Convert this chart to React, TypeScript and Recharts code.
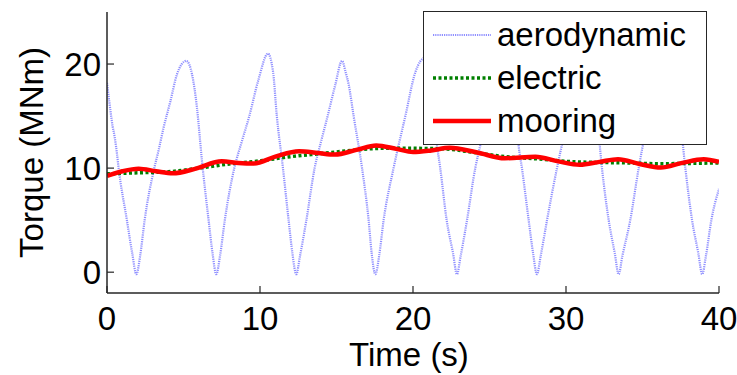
import React from 'react';
import { LineChart, Line, XAxis, YAxis, Legend, Label } from 'recharts';

// aerodynamic torque (MNm) vs time (s)
const aeroTime = [
  0, 0.15, 0.37, 0.5, 0.65, 0.76, 1.3, 1.65, 1.92, 2.17, 2.46, 3.09, 3.37, 3.7, 4.14, 4.57, 5.18, 5.56, 5.88, 6.2, 6.64, 6.9, 7.14,
  7.39, 7.7, 8.32, 8.8, 9.3, 9.9, 10.52, 10.85, 11.1, 11.5, 11.87, 12.12, 12.37,
  12.62, 13.03, 13.57, 14.0, 14.42, 14.92, 15.36, 15.6, 15.8, 16.12, 16.67, 17.1, 17.3, 17.54,
  17.79, 18.08, 18.73, 19.5, 20.15, 20.8, 21.2, 21.57, 21.78, 22.2, 22.62, 22.87,
  23.12, 23.53, 24.07, 24.4, 25.2, 26.13, 26.6, 26.9, 27.12, 27.56, 27.85, 28.1,
  28.35, 28.76, 29.41, 29.7, 30.5, 31.36, 31.9, 32.35, 32.79, 33.19, 33.44,
  33.69, 34.2, 34.75, 35.0, 35.8, 36.7, 37.3, 37.8, 38.24, 38.65, 38.9,
  39.15, 39.5, 40,
];
const aeroTorque = [
  18.2, 16.4, 14.0, 13.0, 11.4, 10, 5, 1.8, -0.2, 1.6, 5, 10, 11.7, 13.9, 16.4, 19.0, 20.3, 19.0, 15.8, 10.8, 5, 1.8, -0.2,
  1.6, 5, 10, 12.5, 15, 18.5, 21.0, 19.3, 15, 10, 5, 1.8, -0.2,
  1.6, 5, 10, 12.6, 15, 18, 20.3, 19.2, 18, 15, 10, 5, 1.8, -0.2,
  1.6, 5, 10, 15, 19.2, 20.6, 17.5, 12.2, 10, 5, 1.8, -0.2,
  1.6, 5, 10, 12.2, 16.5, 20.3, 18, 12.2, 10, 5, 1.8, -0.2,
  1.6, 5, 10, 12, 16.5, 20.3, 17, 10, 5, 1.8, -0.2,
  1.6, 5, 10, 12, 16.5, 20.3, 17, 10, 5, 1.8, -0.2,
  1.6, 5, 8,
];

const electricTime = [0, 2, 4, 6, 8, 10, 12, 14, 16, 18, 20, 22, 24, 26, 28, 30, 32, 34, 36, 38, 40];
const electricTorque = [9.45, 9.55, 9.65, 10.0, 10.4, 10.7, 11.1, 11.4, 11.7, 11.9, 11.9, 11.85, 11.5, 11.1, 10.9, 10.65, 10.55, 10.5, 10.42, 10.45, 10.5];

const mooringTime = [
  0, 1.0, 2.07, 3.2, 4.3, 5.8, 7.5, 8.6, 9.6, 11.0, 12.55, 13.8, 14.9, 16.3, 17.6, 18.9, 20.0, 21.2, 22.4,
  24.2, 26.0, 28.0, 29.5, 30.9, 32.2, 33.4, 34.8, 36.2, 37.6, 39.0, 40,
];
const mooringTorque = [
  9.25, 9.7, 9.95, 9.7, 9.5, 9.95, 10.65, 10.5, 10.45, 11.1, 11.62, 11.45, 11.3, 11.75, 12.18, 11.85, 11.55, 11.7, 11.95,
  11.5, 10.95, 11.1, 10.65, 10.32, 10.6, 10.85, 10.4, 10.05, 10.5, 10.85, 10.6,
];

const xTicks = [0, 10, 20, 30, 40];
const yTicks = [0, 10, 20];
const seriesNames = ['aerodynamic', 'electric', 'mooring'];

const zip = (ts: number[], vs: number[]) => ts.map((t, i) => ({ t, v: vs[i] }));
const aeroData = zip(aeroTime, aeroTorque);
const electricData = zip(electricTime, electricTorque);
const mooringData = zip(mooringTime, mooringTorque);

const FONT = '"Liberation Sans", Arial, Helvetica, sans-serif';
const AXIS = '#262626';

const styles = [
  { stroke: '#6a6aff', width: 2.2, dash: '1.2 1', opacity: 0.75 },
  { stroke: '#008000', width: 3.5, dash: '3 2.5', opacity: 1 },
  { stroke: '#ff0000', width: 4.5, dash: undefined, opacity: 1 },
];

const renderLegend = () => (
  <div
    style={{
      boxSizing: 'border-box',
      width: 284,
      height: 134,
      border: `1.5px solid ${AXIS}`,
      background: '#fff',
      paddingTop: 1,
      fontFamily: FONT,
      fontSize: 33,
      color: '#000',
    }}
  >
    {seriesNames.map((name, i) => (
      <div key={name} style={{ display: 'flex', alignItems: 'center', height: 43 }}>
        <svg width={58} height={10} style={{ marginLeft: 9, marginRight: 6 }}>
          <line
            x1={0}
            y1={5}
            x2={58}
            y2={5}
            stroke={styles[i].stroke}
            strokeWidth={styles[i].width}
            strokeDasharray={styles[i].dash}
            strokeOpacity={styles[i].opacity}
          />
        </svg>
        <span style={{ lineHeight: 'normal' }}>{name}</span>
      </div>
    ))}
  </div>
);

const renderXLabel = (props: any) => {
  const vb = props.viewBox;
  return (
    <text x={vb.x + vb.width / 2 - 4} y={vb.y + 73} textAnchor="middle" fontFamily={FONT} fontSize={33} fill="#000">
      Time (s)
    </text>
  );
};

const renderYLabel = (props: any) => {
  const vb = props.viewBox;
  const cx = vb.x - 4;
  const cy = vb.y + vb.height / 2;
  return (
    <text x={cx} y={cy} transform={`rotate(-90 ${cx} ${cy})`} textAnchor="middle" fontFamily={FONT} fontSize={33} fill="#000">
      Torque (MNm)
    </text>
  );
};

const tickStyle = { fill: '#000', fontSize: 33, fontFamily: FONT };

const App: React.FC = () => {
  return (
    <div style={{ position: 'absolute', left: 0, top: 0, background: '#fff' }}>
      <LineChart width={737} height={375} margin={{ top: 12, right: 18, left: 47, bottom: 42 }}>
        <XAxis
          type="number"
          dataKey="t"
          domain={[0, 40]}
          ticks={xTicks}
          interval={0}
          allowDataOverflow
          tick={tickStyle}
          tickSize={-7}
          tickMargin={21}
          height={40}
          axisLine={{ stroke: AXIS, strokeWidth: 1.5 }}
          tickLine={{ stroke: AXIS, strokeWidth: 1.2 }}
        >
          <Label content={renderXLabel} />
        </XAxis>
        <YAxis
          type="number"
          dataKey="v"
          domain={[-2, 25]}
          ticks={yTicks}
          interval={0}
          allowDataOverflow
          tick={tickStyle}
          tickSize={-7}
          tickMargin={13}
          width={60}
          axisLine={{ stroke: AXIS, strokeWidth: 1.5 }}
          tickLine={{ stroke: AXIS, strokeWidth: 1.2 }}
        >
          <Label content={renderYLabel} />
        </YAxis>
        <Line
          data={aeroData}
          dataKey="v"
          name="aerodynamic"
          type="monotone"
          stroke={styles[0].stroke}
          strokeWidth={styles[0].width}
          strokeDasharray={styles[0].dash}
          strokeOpacity={styles[0].opacity}
          dot={false}
          isAnimationActive={false}
        />
        <Line
          data={electricData}
          dataKey="v"
          name="electric"
          type="monotone"
          stroke={styles[1].stroke}
          strokeWidth={styles[1].width}
          strokeDasharray={styles[1].dash}
          dot={false}
          isAnimationActive={false}
        />
        <Line
          data={mooringData}
          dataKey="v"
          name="mooring"
          type="monotone"
          stroke={styles[2].stroke}
          strokeWidth={styles[2].width}
          dot={false}
          isAnimationActive={false}
        />
        <Legend
          layout="vertical"
          align="center"
          verticalAlign="middle"
          content={renderLegend}
          wrapperStyle={{ left: 423, top: 11, width: 284, height: 134 }}
        />
      </LineChart>
    </div>
  );
};

export default App;
